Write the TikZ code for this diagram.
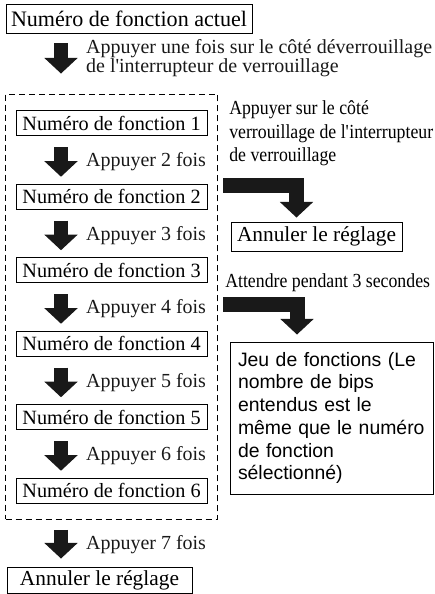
\documentclass[tikz,border=0pt]{standalone}
\usepackage{fontspec}
\setmainfont{Liberation Serif}
\newfontfamily\jeufont{Liberation Sans}
\newfontfamily\narrowfont[FakeStretch=0.89]{Liberation Serif}
\usetikzlibrary{arrows.meta,fit,positioning}
\begin{document}
\begin{tikzpicture}[
    % Styles
    stepbox/.style={draw, line width=0.7pt, minimum width=4.775cm, minimum height=0.625cm,
        inner sep=0pt, font=\fontsize{14.4pt}{13.5pt}\selectfont},
    cancelbox/.style={draw, line width=0.7pt, minimum height=0.725cm, inner sep=0pt,
        font=\fontsize{15.2pt}{13.5pt}\selectfont},
    bigarrow/.style={line width=0.36cm, black!90,
        -{Triangle[width=0.83cm, length=0.39cm, line width=1pt]}},
    presslabel/.style={midway, right=0.45cm, inner sep=0pt, align=left,
        font=\fontsize{14.2pt}{13.5pt}\selectfont},
    sidelabel/.style={inner sep=0pt, align=left,
        font=\narrowfont\fontsize{14.2pt}{16.4pt}\selectfont}
]
\useasboundingbox (0,0) rectangle (10.85,-14.85);

% --- Current function ---
\node[cancelbox, minimum width=6.15cm, font=\fontsize{15.7pt}{13.5pt}\selectfont] (cur) at (3.225, -0.4625) {Numéro de fonction actuel};

% --- Function numbers ---
\node[stepbox] (fn1) at (2.7875, -3.075) {Numéro de fonction 1};
\node[stepbox] (fn2) at (2.7875, -4.9125) {Numéro de fonction 2};
\node[stepbox] (fn3) at (2.7875, -6.75) {Numéro de fonction 3};
\node[stepbox] (fn4) at (2.7875, -8.5875) {Numéro de fonction 4};
\node[stepbox] (fn5) at (2.7875, -10.425) {Numéro de fonction 5};
\node[stepbox] (fn6) at (2.7875, -12.2625) {Numéro de fonction 6};

% Dashed frame round them
\node[draw, line width=0.7pt, dash pattern=on 0.15cm off 0.1cm, inner xsep=0.25cm, inner ysep=0.4cm,
    fit=(fn1)(fn6)] (frame) {};

% --- Cancel boxes ---
\node[cancelbox, minimum width=4.625cm, minimum height=0.65cm] (cancel) at (2.4875, -14.5) {Annuler le réglage};
\node[cancelbox, minimum width=4.275cm] (annul) at (7.9125, -5.9125) {Annuler le réglage};

% --- Function set ---
\node[draw, line width=0.7pt, minimum height=3.8cm, text width=4.675cm, inner xsep=0.2cm,
    align=left, font=\jeufont\fontsize{13.8pt}{16.15pt}\selectfont] (jeu) at (8.2875, -10.45)
    {\mbox{Jeu de fonctions (Le}\\\mbox{nombre de bips}\\\mbox{entendus est le}\\
     \mbox{même que le numéro}\\\mbox{de fonction}\\\mbox{sélectionné)}};

% --- Press arrows ---
\draw[bigarrow] ([xshift=-1.7cm, yshift=-0.25cm]cur.south) -- ([xshift=-1.2625cm, yshift=0.5cm]frame.north)
    node[presslabel] (p1) {Appuyer une fois sur le côté déverrouillage\\de l\textquotesingle interrupteur de verrouillage};
\draw[bigarrow] ([xshift=-1.2625cm, yshift=-0.28cm]fn1.south) -- ([xshift=-1.2625cm, yshift=0.17cm]fn2.north)
    node[presslabel] (p2) {Appuyer 2 fois};
\draw[bigarrow] ([xshift=-1.2625cm, yshift=-0.28cm]fn2.south) -- ([xshift=-1.2625cm, yshift=0.17cm]fn3.north)
    node[presslabel] (p3) {Appuyer 3 fois};
\draw[bigarrow] ([xshift=-1.2625cm, yshift=-0.28cm]fn3.south) -- ([xshift=-1.2625cm, yshift=0.17cm]fn4.north)
    node[presslabel] (p4) {Appuyer 4 fois};
\draw[bigarrow] ([xshift=-1.2625cm, yshift=-0.28cm]fn4.south) -- ([xshift=-1.2625cm, yshift=0.17cm]fn5.north)
    node[presslabel] (p5) {Appuyer 5 fois};
\draw[bigarrow] ([xshift=-1.2625cm, yshift=-0.28cm]fn5.south) -- ([xshift=-1.2625cm, yshift=0.17cm]fn6.north)
    node[presslabel] (p6) {Appuyer 6 fois};
\draw[bigarrow] ([xshift=-1.2625cm, yshift=-0.25cm]frame.south) -- ([xshift=-0.9625cm, yshift=0.2cm]cancel.north)
    node[presslabel] (p7) {Appuyer 7 fois};

% --- Lock side ---
\node[sidelabel, anchor=north west] (lock) at (5.725, -2.52) {Appuyer sur le côté\\verrouillage de l\textquotesingle interrupteur\\de verrouillage};
\coordinate (lockstart) at (5.575, -4.6375);
\draw[bigarrow, line width=0.375cm] (lockstart) -| ([xshift=-0.5cm, yshift=0.1cm]annul.north);

% --- Wait 3 s ---
\node[sidelabel, anchor=base west] (wait) at (5.625, -7.2) {Attendre pendant 3 secondes};
\coordinate (waitstart) at (5.575, -7.6);
\draw[bigarrow, line width=0.375cm] (waitstart) -| ([xshift=-0.8625cm, yshift=0.175cm]jeu.north);

\end{tikzpicture}
\end{document}
